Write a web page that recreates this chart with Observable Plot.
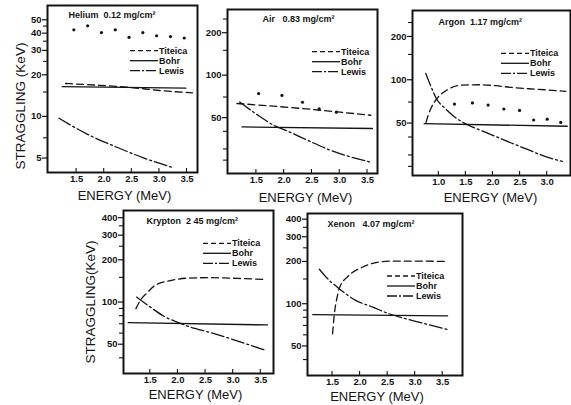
<!DOCTYPE html>
<html>
<head>
<meta charset="utf-8">
<script src="https://cdn.jsdelivr.net/npm/d3@7"></script>
<script src="https://cdn.jsdelivr.net/npm/@observablehq/plot@0.6"></script>
<style>
  html, body { margin: 0; padding: 0; background: #fff; }
  #chart { position: relative; width: 571px; height: 405px; overflow: hidden; background: #fff; }
  #chart svg { position: absolute; left: 0; top: 0; max-width: none; background: transparent; overflow: visible; }
</style>
</head>
<body>
<div id="chart"></div>
<script>
// ---------- data (energy MeV, straggling keV) ----------
const seriesNames = ["Titeica", "Bohr", "Lewis"];
const energyTicks = [1.5, 2.0, 2.5, 3.0, 3.5];
const argonEnergyTicks = [1.0, 1.5, 2.0, 2.5, 3.0];

// Helium 0.12 mg/cm2
const heliumPoints = [[1.45,42.3],[1.7,45.2],[1.95,40.4],[2.2,42.3],[2.45,37.3],[2.7,40.4],[2.95,38.3],[3.2,37.8],[3.45,36.9]];
const heliumTiteica = [[1.3,17.3],[1.9,16.8],[2.47,16.2],[3.0,15.4],[3.6,14.8]];
const heliumBohr = [[1.24,16.4],[3.48,16.0]];
const heliumLewis = [[1.18,9.7],[1.69,7.45],[2.24,5.96],[2.72,5.0],[3.24,4.27]];
const heliumTicks = [5, 10, 20, 30, 40, 50];
const heliumMinor = [7, 15, 25, 35, 45];

// Air 0.83 mg/cm2
const airPoints = [[1.54,74],[1.96,71.8],[2.33,64.3],[2.63,57.7],[2.94,54.7]];
const airTiteica = [[1.15,63],[2.11,59],[3.56,52]];
const airBohr = [[1.24,43],[3.59,41.9]];
const airLewis = [[1.2,64.6],[1.51,52.6],[1.81,44.2],[2.05,40.3],[2.42,34.6],[2.84,29.3],[3.2,26.3],[3.56,24.2]];
const airTicks = [50, 100, 200];
const airMinor = [25, 30, 40, 70, 150, 250];

// Argon 1.17 mg/cm2
const argonPoints = [[1.29,67.8],[1.62,69],[1.91,66.7],[2.2,62.6],[2.49,61.2],[2.75,52.5],[3.0,53.2],[3.25,50.5]];
const argonTiteica = [[0.765,50.5],[0.8,56],[0.85,62.6],[0.96,73.5],[1.13,83.9],[1.44,91.8],[1.78,92.3],[2.05,90.9],[2.35,88.4],[2.66,86.6],[2.97,85.2],[3.34,83.0]];
const argonBohr = [[0.73,49.5],[3.37,47.5]];
const argonLewis = [[0.76,110.6],[0.85,90.9],[0.96,73.5],[1.13,62.6],[1.31,54.5],[1.47,50],[1.74,45],[2.05,40.3],[2.35,36.2],[2.66,32.5],[2.97,29.2],[3.28,27.1]];
const argonTicks = [50, 100, 200];
const argonMinor = [25, 30, 40, 70, 150, 250];

// Krypton 2.45 mg/cm2
const kryptonTiteica = [[1.24,89.7],[1.32,103],[1.44,116],[1.585,131.5],[1.86,142],[2.17,148],[2.59,149.2],[3.08,147.5],[3.56,145]];
const kryptonBohr = [[1.1,71.3],[3.62,68.6]];
const kryptonLewis = [[1.25,108.5],[1.5,92],[1.77,78.2],[2.01,71.3],[2.22,66.3],[2.59,60.5],[2.89,55.7],[3.26,49.9],[3.59,45.2]];
const kryptonTicks = [50, 100, 200, 300, 400];
const kryptonMinor = [40, 60, 70, 80, 90, 150, 250, 350];

// Xenon 4.07 mg/cm2
const xenonTiteica = [[1.5,61],[1.53,82.5],[1.59,114.6],[1.62,128],[1.8,159],[2.05,182.5],[2.35,198],[2.59,201],[3.0,201],[3.59,200]];
const xenonBohr = [[1.14,83.5],[3.59,82]];
const xenonLewis = [[1.26,176],[1.38,155],[1.62,128],[1.92,105.6],[2.23,94.6],[2.5,85.5],[2.86,77.6],[3.23,71.1],[3.59,65.5]];
const xenonTicks = [50, 100, 200, 300, 400];
const xenonMinor = [40, 60, 70, 80, 90, 150, 250, 350];

// ---------- layout / style ----------
const W = 571, H = 405;
const INK = "#141414";
const FONT = '"Liberation Sans", Arial, Helvetica, sans-serif';
const DASH = {Titeica: "7,4", Bohr: null, Lewis: "13,3,2,3"};

const panels = [
  {title: "Helium  0.12 mg/cm²", frame: [47,197,5,172], xd: [0.973,3.69], yd: [3.93,63.4],
   xt: energyTicks, yt: heliumTicks, ym: heliumMinor, points: heliumPoints,
   lines: [heliumTiteica, heliumBohr, heliumLewis],
   titlePos: [21,10], legend: [130,50.7], xlab: "ENERGY (MeV)", xlabPos: [2,23],
   ylab: "STRAGGLING (KeV)", ylabPos: [-27,17]},
  {title: "Air   0.83 mg/cm²", frame: [227,377,9,173], xd: [0.98,3.68], yd: [20.1,292],
   xt: energyTicks, yt: airTicks, ym: airMinor, points: airPoints,
   lines: [airTiteica, airBohr, airLewis],
   titlePos: [35,10], legend: [312,51.7], xlab: "ENERGY (MeV)", xlabPos: [3,24]},
  {title: "Argon  1.17 mg/cm²", frame: [412,570,10,175], xd: [0.515,3.43], yd: [21.6,303],
   xt: argonEnergyTicks, yt: argonTicks, ym: argonMinor, points: argonPoints,
   lines: [argonTiteica, argonBohr, argonLewis],
   titlePos: [26,12], legend: [501,53.3], xlab: "ENERGY (MeV)", xlabPos: [-1,22]},
  {title: "Krypton  2 45 mg/cm²", frame: [123,273,210,373], xd: [1.015,3.73], yd: [30.9,450],
   xt: energyTicks, yt: kryptonTicks, ym: kryptonMinor, points: [],
   lines: [kryptonTiteica, kryptonBohr, kryptonLewis],
   titlePos: [23,11], legend: [203,243.3], xlab: "ENERGY (MeV)", xlabPos: [-3,21],
   ylab: "STRAGGLING(KeV)", ylabPos: [-33,10]},
  {title: "Xenon   4.07 mg/cm²", frame: [307,462,213,375], xd: [1.045,3.86], yd: [30.8,439],
   xt: energyTicks, yt: xenonTicks, ym: xenonMinor, points: [],
   lines: [xenonTiteica, xenonBohr, xenonLewis],
   titlePos: [20,11], legend: [387,276], xlab: "ENERGY (MeV)", xlabPos: [-8,21]}
];

function makePanel(p) {
  const [fx0, fx1, fy0, fy1] = p.frame;
  const marks = [];
  // curves
  p.lines.forEach((data, i) => {
    marks.push(Plot.line(data, {curve: "monotone-x", stroke: INK, strokeWidth: 1.3,
      strokeDasharray: DASH[seriesNames[i]] || undefined}));
  });
  if (p.points.length) marks.push(Plot.dot(p.points, {r: 1.6, fill: INK, stroke: "none"}));
  // axes
  marks.push(Plot.axisY({ticks: p.yt, tickSize: 5, tickPadding: 1, tickFormat: d => String(d),
    fontWeight: "bold", fontSize: 9.5, label: null, stroke: INK, strokeWidth: 1.2}));
  marks.push(Plot.axisY({ticks: p.ym, tickSize: 4, tickFormat: () => "", label: null, stroke: INK, strokeWidth: 1.1}));
  marks.push(Plot.axisX({ticks: p.xt, tickSize: 0, tickPadding: 3, tickFormat: d3.format(".1f"),
    fontWeight: "bold", fontSize: 9.5, label: null}));
  // inward x ticks
  marks.push((index, scales) => {
    const g = d3.create("svg:g").attr("stroke", INK).attr("stroke-width", 1.1);
    for (const t of p.xt) {
      const x = scales.x(t);
      g.append("line").attr("x1", x).attr("x2", x).attr("y1", fy1).attr("y2", fy1 - 4);
    }
    return g.node();
  });
  marks.push(Plot.frame({stroke: INK, strokeWidth: 2}));
  // title
  marks.push(Plot.text([p.title], {frameAnchor: "top-left", text: d => d, dx: p.titlePos[0], dy: p.titlePos[1],
    textAnchor: "start", lineAnchor: "middle", fontSize: 9, fontWeight: "bold", fill: INK}));
  // axis labels
  marks.push(Plot.text([p.xlab], {frameAnchor: "bottom", text: d => d, dx: p.xlabPos[0], dy: p.xlabPos[1],
    lineAnchor: "middle", fontSize: 13, fill: INK}));
  if (p.ylab) {
    marks.push(Plot.text([p.ylab], {frameAnchor: "left", text: d => d, dx: p.ylabPos[0], dy: p.ylabPos[1],
      rotate: -90, lineAnchor: "middle", textAnchor: "middle", fontSize: 13.5, fill: INK}));
  }
  // legend
  marks.push(() => {
    const g = d3.create("svg:g");
    const [lx, ly] = p.legend;
    seriesNames.forEach((name, i) => {
      const y = ly + i * 10;
      const ln = g.append("line").attr("x1", lx).attr("x2", lx + 28).attr("y1", y).attr("y2", y)
        .attr("stroke", INK).attr("stroke-width", 1.3);
      if (DASH[name]) ln.attr("stroke-dasharray", name === "Titeica" ? "5,3" : "10,2,2,2");
      g.append("text").attr("x", lx + 29).attr("y", y).attr("dy", "0.35em")
        .attr("text-anchor", "start")
        .attr("font-size", 9).attr("font-weight", "bold").attr("fill", INK)
        .attr("font-family", FONT).text(name);
    });
    return g.node();
  });

  return Plot.plot({
    width: W, height: H,
    marginLeft: fx0, marginRight: W - fx1, marginTop: fy0, marginBottom: H - fy1,
    style: {fontFamily: FONT, fontSize: "9.5px", background: "transparent", color: INK, overflow: "visible"},
    x: {type: "linear", domain: p.xd},
    y: {type: "log", domain: p.yd},
    marks
  });
}

const chart = document.getElementById("chart");
for (const p of panels) chart.appendChild(makePanel(p));
</script>
</body>
</html>
